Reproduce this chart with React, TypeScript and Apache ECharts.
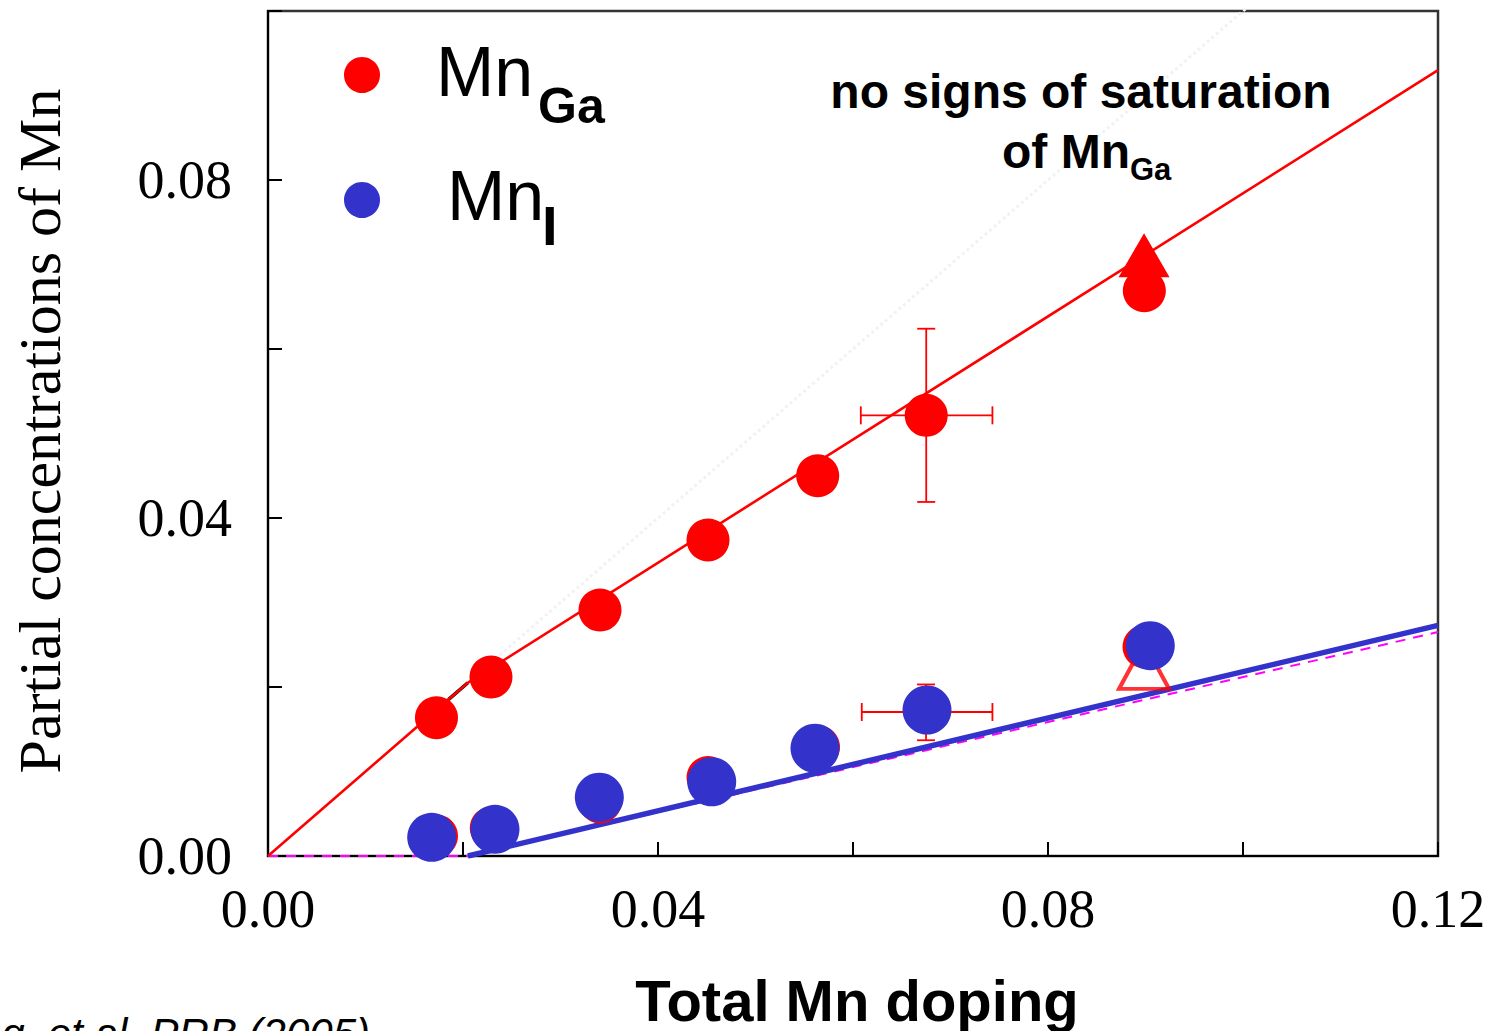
import React, { useEffect, useRef } from "react";
import * as echarts from "echarts";

// Axis ranges and labelled ticks
const xLabelTicks = [0, 0.04, 0.08, 0.12];
const yLabelTicks = [0, 0.04, 0.08];

// Substitutional Mn (Mn_Ga) vs total Mn doping
const mnGaTotal = [0.01728, 0.02287, 0.03405, 0.04513, 0.05638, 0.06751, 0.08988];
const mnGaPartial = [0.01637, 0.02118, 0.02911, 0.0374, 0.045, 0.05215, 0.0669];

// Interstitial Mn (Mn_I) vs total Mn doping
const mnITotal = [0.01679, 0.02328, 0.03398, 0.04551, 0.0561, 0.06759, 0.09049];
const mnIPartial = [0.00221, 0.00316, 0.00695, 0.00879, 0.01275, 0.01728, 0.02489];

// Second Mn_I estimate (red), mostly under the blue markers
const mnIAltTotal = [0.01728, 0.0229, 0.03405, 0.04513, 0.05646, 0.06749, 0.08985];
const mnIAltPartial = [0.00237, 0.00331, 0.0064, 0.00929, 0.0129, 0.01704, 0.02477];

// Bound markers at the highest doping
const mnGaBound = [0.08985, 0.0711];
const mnIBound = [0.08985, 0.0225];

// Model curves
const mnGaFitX = [0, 0.0205, 0.12];
const mnGaFitY = [0, 0.0205, 0.093];
const mnIFitX = [0.0205, 0.12];
const mnIFitY = [0, 0.0273];
const mnIAltFitX = [0, 0.0205, 0.12];
const mnIAltFitY = [0, 0, 0.0265];
const identityX = [0.0205, 0.1005];
const identityY = [0.0205, 0.1005];
const identityLowX = [0.0185, 0.0205];
const identityLowY = [0.0185, 0.0205];

// Error bars: centre x, centre y, x low, x high, y low, y high
const errCx = [0.06751, 0.06749];
const errCy = [0.05215, 0.01704];
const errXLo = [0.0608, 0.0609];
const errXHi = [0.0743, 0.0743];
const errYLo = [0.0419, 0.0137];
const errYHi = [0.0624, 0.0203];

const RED = "#ff0000";
const BLUE = "#3333cc";
const SANS = "'Liberation Sans', Arial, sans-serif";
const SERIF = "'Liberation Serif', 'Times New Roman', serif";

const zip = (xs: number[], ys: number[]) => xs.map((x, i) => [x, ys[i]]);

const isLabelled = (v: number, list: number[]) =>
  list.some((t) => Math.abs(t - v) < 1e-9);

export default function App() {
  const ref = useRef<HTMLDivElement>(null);

  useEffect(() => {
    if (!ref.current) return;
    const chart = echarts.init(ref.current, null, { renderer: "svg" });

    const errData = errCx.map((x, i) => [x, errCy[i], errXLo[i], errXHi[i], errYLo[i], errYHi[i]]);

    const option: any = {
      animation: false,
      backgroundColor: "#ffffff",
      grid: {
        left: 268,
        top: 11,
        right: 52,
        bottom: 175,
        show: true,
        borderColor: "#333333",
        borderWidth: 2.5,
        backgroundColor: "transparent",
      },
      xAxis: {
        type: "value",
        min: 0,
        max: 0.12,
        interval: 0.02,
        axisLine: { show: true, onZero: false, lineStyle: { color: "#000", width: 2 } },
        axisTick: { show: true, inside: true, length: 14, lineStyle: { color: "#000", width: 2 } },
        splitLine: { show: false },
        axisLabel: {
          margin: 26,
          fontFamily: SERIF,
          fontSize: 54,
          color: "#000",
          formatter: (v: number) => (isLabelled(v, xLabelTicks) ? v.toFixed(2) : ""),
        },
      },
      yAxis: {
        type: "value",
        min: 0,
        max: 0.1,
        interval: 0.02,
        axisLine: { show: true, onZero: false, lineStyle: { color: "#000", width: 2 } },
        axisTick: { show: true, inside: true, length: 14, lineStyle: { color: "#000", width: 2 } },
        splitLine: { show: false },
        axisLabel: {
          margin: 36,
          fontFamily: SERIF,
          fontSize: 54,
          color: "#000",
          formatter: (v: number) => (isLabelled(v, yLabelTicks) ? v.toFixed(2) : ""),
        },
      },
      series: [
        {
          name: "Mn_I model (alt)",
          type: "line",
          data: zip(mnIAltFitX, mnIAltFitY),
          symbol: "none",
          lineStyle: { color: "#ff00ff", width: 2, type: [10, 8] },
          clip: false,
          z: 3,
        },
        {
          name: "identity low",
          type: "line",
          data: zip(identityLowX, identityLowY),
          symbol: "none",
          lineStyle: { color: "#000", width: 3.5 },
          z: 3,
        },
        {
          name: "identity",
          type: "line",
          data: zip(identityX, identityY),
          symbol: "none",
          lineStyle: { color: "#f2f2f2", width: 3, type: [3, 3] },
          clip: false,
          z: 3,
        },
        {
          name: "Mn_I model",
          type: "line",
          data: zip(mnIFitX, mnIFitY),
          symbol: "none",
          lineStyle: { color: BLUE, width: 5.5 },
          z: 3,
        },
        {
          name: "Mn_Ga model",
          type: "line",
          data: zip(mnGaFitX, mnGaFitY),
          symbol: "none",
          lineStyle: { color: RED, width: 2.6 },
          z: 3,
        },
        {
          name: "error bars",
          type: "custom",
          data: errData,
          encode: { x: [0, 2, 3], y: [1, 4, 5] },
          z: 4,
          renderItem: (_p: any, api: any) => {
            const x = api.value(0);
            const y = api.value(1);
            const l = api.coord([api.value(2), y]);
            const r = api.coord([api.value(3), y]);
            const b = api.coord([x, api.value(4)]);
            const t = api.coord([x, api.value(5)]);
            const cap = 9;
            const style = { stroke: RED, lineWidth: 1.8 };
            const seg = (x1: number, y1: number, x2: number, y2: number) => ({
              type: "line",
              shape: { x1, y1, x2, y2 },
              style,
            });
            return {
              type: "group",
              children: [
                seg(l[0], l[1], r[0], r[1]),
                seg(b[0], b[1], t[0], t[1]),
                seg(l[0], l[1] - cap, l[0], l[1] + cap),
                seg(r[0], r[1] - cap, r[0], r[1] + cap),
                seg(b[0] - cap, b[1], b[0] + cap, b[1]),
                seg(t[0] - cap, t[1], t[0] + cap, t[1]),
              ],
            };
          },
        },
        {
          name: "Mn_I (alt)",
          type: "scatter",
          data: zip(mnIAltTotal, mnIAltPartial),
          symbol: "circle",
          symbolSize: 43,
          itemStyle: { color: RED, opacity: 1 },
          z: 5,
        },
        {
          name: "Mn_I bound",
          type: "scatter",
          data: [mnIBound],
          symbol: "triangle",
          symbolSize: [50, 46],
          itemStyle: { color: "rgba(255,255,255,0)", borderColor: RED, borderWidth: 4 },
          z: 5,
        },
        {
          name: "Mn_I",
          type: "scatter",
          data: zip(mnITotal, mnIPartial),
          symbol: "circle",
          symbolSize: 49,
          itemStyle: { color: BLUE, opacity: 1 },
          z: 6,
        },
        {
          name: "Mn_Ga",
          type: "scatter",
          data: zip(mnGaTotal, mnGaPartial),
          symbol: "circle",
          symbolSize: 43,
          itemStyle: { color: RED, opacity: 1 },
          z: 6,
        },
        {
          name: "Mn_Ga bound",
          type: "scatter",
          data: [mnGaBound],
          symbol: "triangle",
          symbolSize: [51, 44],
          itemStyle: { color: RED, opacity: 1 },
          z: 6,
        },
      ],
      graphic: [
        // legend markers
        { type: "circle", shape: { cx: 362, cy: 75, r: 18 }, style: { fill: RED }, z: 10 },
        { type: "circle", shape: { cx: 362, cy: 200, r: 18 }, style: { fill: BLUE }, z: 10 },
        {
          type: "text", x: 436, y: 72, z: 10,
          style: { text: "Mn", font: `normal 70px ${SANS}`, fill: "#000", verticalAlign: "middle" },
        },
        {
          type: "text", x: 538, y: 106, z: 10,
          style: { text: "Ga", font: `bold 50px ${SANS}`, fill: "#000", verticalAlign: "middle" },
        },
        {
          type: "text", x: 447, y: 196, z: 10,
          style: { text: "Mn", font: `normal 70px ${SANS}`, fill: "#000", verticalAlign: "middle" },
        },
        {
          type: "text", x: 542, y: 225, z: 10,
          style: { text: "I", font: `bold 56px ${SANS}`, fill: "#000", verticalAlign: "middle" },
        },
        // annotation
        {
          type: "text", x: 1081, y: 91, z: 10,
          style: {
            text: "no signs of saturation", font: `bold 48px ${SANS}`, fill: "#000",
            align: "center", verticalAlign: "middle",
          },
        },
        {
          type: "text", x: 1002, y: 151, z: 10,
          style: { text: "of Mn", font: `bold 48px ${SANS}`, fill: "#000", verticalAlign: "middle" },
        },
        {
          type: "text", x: 1130, y: 169, z: 10,
          style: { text: "Ga", font: `bold 31px ${SANS}`, fill: "#000", verticalAlign: "middle" },
        },
        // axis titles
        {
          type: "text", x: 40, y: 431, rotation: Math.PI / 2, z: 10,
          style: {
            text: "Partial concentrations of Mn", font: `normal 60px ${SERIF}`, fill: "#000",
            align: "center", verticalAlign: "middle",
          },
        },
        {
          type: "text", x: 857, y: 1000, z: 10,
          style: {
            text: "Total Mn doping", font: `bold 58px ${SANS}`, fill: "#000",
            align: "center", verticalAlign: "middle",
          },
        },
        // reference note
        {
          type: "text", x: 370, y: 1033, z: 10,
          style: {
            text: "g, et al. PRB (2005)", font: `italic 42px ${SANS}`, fill: "#000",
            align: "right", verticalAlign: "middle",
          },
        },
      ],
    };

    chart.setOption(option);
    return () => chart.dispose();
  }, []);

  return (
    <div
      ref={ref}
      style={{ position: "absolute", left: 0, top: 0, width: 1490, height: 1031, background: "#fff" }}
    />
  );
}
